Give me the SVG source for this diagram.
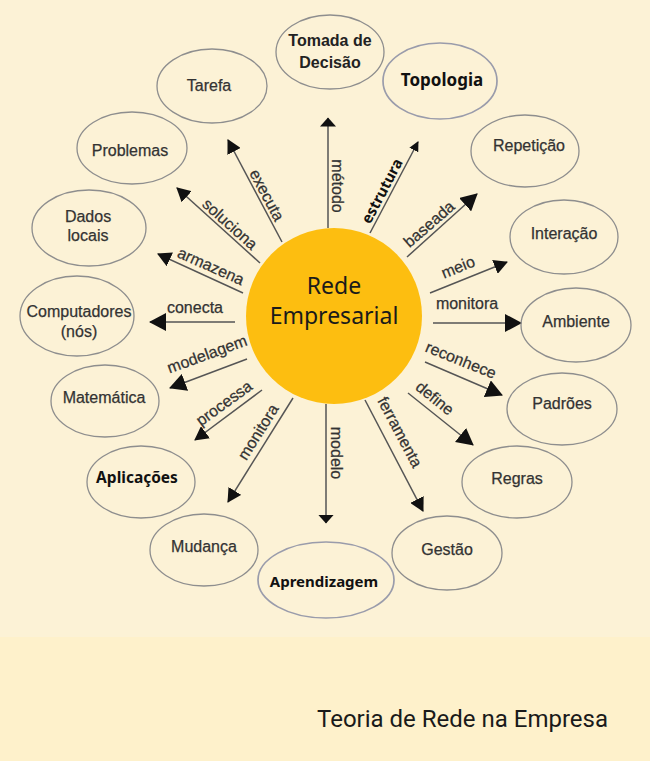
<svg xmlns="http://www.w3.org/2000/svg" width="650" height="761" viewBox="0 0 650 761">
<style>
.bg{fill:#FCF2D6}
.bg2{fill:#FEF1CB}
.el{fill:none;stroke:#8e8e8e;stroke-width:1.3}
.el2{fill:none;stroke:#9a9cab;stroke-width:1.7}
.t{font-family:"Liberation Sans",Arial,sans-serif;font-size:16px;fill:#333;text-anchor:middle;stroke:#333;stroke-width:0.25}
.tb{font-family:"Liberation Sans",Arial,sans-serif;font-size:16px;font-weight:bold;fill:#222;text-anchor:middle}
.tn{font-family:"Noto Sans","Open Sans",sans-serif;font-weight:bold;fill:#111;text-anchor:middle}
.lb{font-family:"Liberation Sans",Arial,sans-serif;font-size:16px;fill:#333;text-anchor:middle;stroke:#333;stroke-width:0.25}
.ln{stroke:#555;stroke-width:1.5;fill:none}
.core{fill:#FDBE10}
.ct{font-family:"Noto Sans","Open Sans",sans-serif;font-size:23px;fill:#1a1a1a;text-anchor:middle}
.title{font-family:Roboto,"Noto Sans",sans-serif;font-size:24px;fill:#1a1a1a}
</style>
<defs>
<marker id="aS" markerUnits="userSpaceOnUse" markerWidth="10" markerHeight="10" refX="9" refY="5" orient="auto"><path d="M0,0 L10,5 L0,10 z" fill="#111"/></marker>
<marker id="aF" markerUnits="userSpaceOnUse" markerWidth="10" markerHeight="16" refX="8.5" refY="8" orient="auto"><path d="M0,0 L9,8 L0,16 z" fill="#111"/></marker>
<marker id="aM" markerUnits="userSpaceOnUse" markerWidth="14" markerHeight="15" refX="13" refY="7.5" orient="auto"><path d="M0,0 L14,7.5 L0,15 z" fill="#111"/></marker>
<marker id="aL" markerUnits="userSpaceOnUse" markerWidth="17" markerHeight="18" refX="16" refY="9" orient="auto"><path d="M0,0 L17,9 L0,18 z" fill="#111"/></marker>
</defs>
<rect class="bg" x="0" y="0" width="650" height="637"/>
<rect class="bg2" x="0" y="637" width="650" height="124"/>

<g id="connectors">
<line class="ln" x1="328" y1="228" x2="328" y2="118" marker-end="url(#aF)"/>
<line class="ln" x1="370" y1="233" x2="418" y2="142" marker-end="url(#aS)"/>
<line class="ln" x1="407" y1="257" x2="477" y2="194" marker-end="url(#aL)"/>
<line class="ln" x1="430" y1="293" x2="507" y2="262" marker-end="url(#aM)"/>
<line class="ln" x1="433" y1="323" x2="521" y2="323" marker-end="url(#aL)"/>
<line class="ln" x1="425" y1="362" x2="502" y2="395" marker-end="url(#aL)"/>
<line class="ln" x1="408" y1="393" x2="473" y2="445" marker-end="url(#aL)"/>
<line class="ln" x1="365" y1="400" x2="423" y2="511" marker-end="url(#aM)"/>
<line class="ln" x1="326" y1="404" x2="326" y2="523" marker-end="url(#aF)"/>
<line class="ln" x1="293" y1="398" x2="228" y2="502" marker-end="url(#aM)"/>
<line class="ln" x1="262" y1="390" x2="195" y2="440" marker-end="url(#aM)"/>
<line class="ln" x1="247" y1="359" x2="170" y2="388" marker-end="url(#aL)"/>
<line class="ln" x1="235" y1="322" x2="150" y2="322" marker-end="url(#aL)"/>
<line class="ln" x1="243" y1="293" x2="158" y2="254" marker-end="url(#aM)"/>
<line class="ln" x1="260" y1="263" x2="177" y2="188" marker-end="url(#aM)"/>
<line class="ln" x1="282" y1="242" x2="228" y2="140" marker-end="url(#aM)"/>
<text class="lb" x="338" y="186" dy="0.35em" transform="rotate(90 338 186)">método</text>
<text class="tn" style="font-size:15px" x="382" y="191" dy="0.35em" transform="rotate(-62 382 191)">estrutura</text>
<text class="lb" x="429" y="224" dy="0.35em" transform="rotate(-41 429 224)">baseada</text>
<text class="lb" x="458" y="267" dy="0.35em" transform="rotate(-22 458 267)">meio</text>
<text class="lb" x="467" y="309">monitora</text>
<text class="lb" x="461" y="360" dy="0.35em" transform="rotate(22 461 360)">reconhece</text>
<text class="lb" x="435" y="398" dy="0.35em" transform="rotate(39 435 398)">define</text>
<text class="lb" x="400" y="432" dy="0.35em" transform="rotate(62 400 432)">ferramenta</text>
<text class="lb" x="337" y="453" dy="0.35em" transform="rotate(90 337 453)">modelo</text>
<text class="lb" x="258" y="432" dy="0.35em" transform="rotate(-58 258 432)">monitora</text>
<text class="lb" x="224" y="403" dy="0.35em" transform="rotate(-36 224 403)">processa</text>
<text class="lb" x="207" y="354" dy="0.35em" transform="rotate(-20 207 354)">modelagem</text>
<text class="lb" x="195" y="313">conecta</text>
<text class="lb" x="211" y="266" dy="0.35em" transform="rotate(24 211 266)">armazena</text>
<text class="lb" x="230" y="224" dy="0.35em" transform="rotate(42 230 224)">soluciona</text>
<text class="lb" x="267" y="195" dy="0.35em" transform="rotate(62 267 195)">executa</text>
</g>

<g id="rede-empresarial">
<circle class="core" cx="334" cy="316" r="88"/>
<text class="ct" x="334" y="294">Rede</text>
<text class="ct" x="334" y="324">Empresarial</text>
</g>

<g id="tomada-de-decisao">
<ellipse class="el" cx="330" cy="52" rx="54" ry="37"/>
<text class="tb" x="330" y="46">Tomada de</text>
<text class="tb" x="330" y="68">Decisão</text>
</g>
<g id="topologia">
<ellipse class="el2" cx="440" cy="81" rx="57" ry="38"/>
<text class="tn" style="font-size:17px" x="442" y="86">Topologia</text>
</g>
<g id="tarefa">
<ellipse class="el" cx="212" cy="86" rx="55" ry="37"/>
<text class="t" x="209" y="91">Tarefa</text>
</g>
<g id="problemas">
<ellipse class="el" cx="132" cy="148" rx="55" ry="36"/>
<text class="t" x="130" y="156">Problemas</text>
</g>
<g id="dados-locais">
<ellipse class="el" cx="89" cy="228" rx="57" ry="38"/>
<text class="t" x="88" y="222">Dados</text>
<text class="t" x="88" y="241">locais</text>
</g>
<g id="computadores">
<ellipse class="el" cx="77" cy="316" rx="57" ry="40"/>
<text class="t" x="79" y="317">Computadores</text>
<text class="t" x="79" y="337">(nós)</text>
</g>
<g id="matematica">
<ellipse class="el" cx="105" cy="401" rx="54" ry="36"/>
<text class="t" x="104" y="403">Matemática</text>
</g>
<g id="aplicacoes">
<ellipse class="el" cx="141" cy="482" rx="54" ry="36"/>
<text class="tn" style="font-size:15.5px" x="137" y="483">Aplicações</text>
</g>
<g id="mudanca">
<ellipse class="el" cx="204" cy="550" rx="54" ry="36"/>
<text class="t" x="204" y="552">Mudança</text>
</g>
<g id="aprendizagem">
<ellipse class="el2" cx="326" cy="580" rx="68" ry="38"/>
<text class="tn" style="font-size:15px" x="324" y="587">Aprendizagem</text>
</g>
<g id="gestao">
<ellipse class="el" cx="447" cy="553" rx="55" ry="37"/>
<text class="t" x="447" y="555">Gestão</text>
</g>
<g id="regras">
<ellipse class="el" cx="517" cy="482" rx="55" ry="36"/>
<text class="t" x="517" y="484">Regras</text>
</g>
<g id="padroes">
<ellipse class="el" cx="562" cy="409" rx="55" ry="36"/>
<text class="t" x="562" y="409">Padrões</text>
</g>
<g id="ambiente">
<ellipse class="el" cx="576" cy="325" rx="55" ry="37"/>
<text class="t" x="576" y="327">Ambiente</text>
</g>
<g id="interacao">
<ellipse class="el" cx="564" cy="237" rx="54" ry="37"/>
<text class="t" x="564" y="239">Interação</text>
</g>
<g id="repeticao">
<ellipse class="el" cx="525" cy="151" rx="54" ry="36"/>
<text class="t" x="529" y="151">Repetição</text>
</g>

<text class="title" x="317" y="727">Teoria de Rede na Empresa</text>
</svg>
